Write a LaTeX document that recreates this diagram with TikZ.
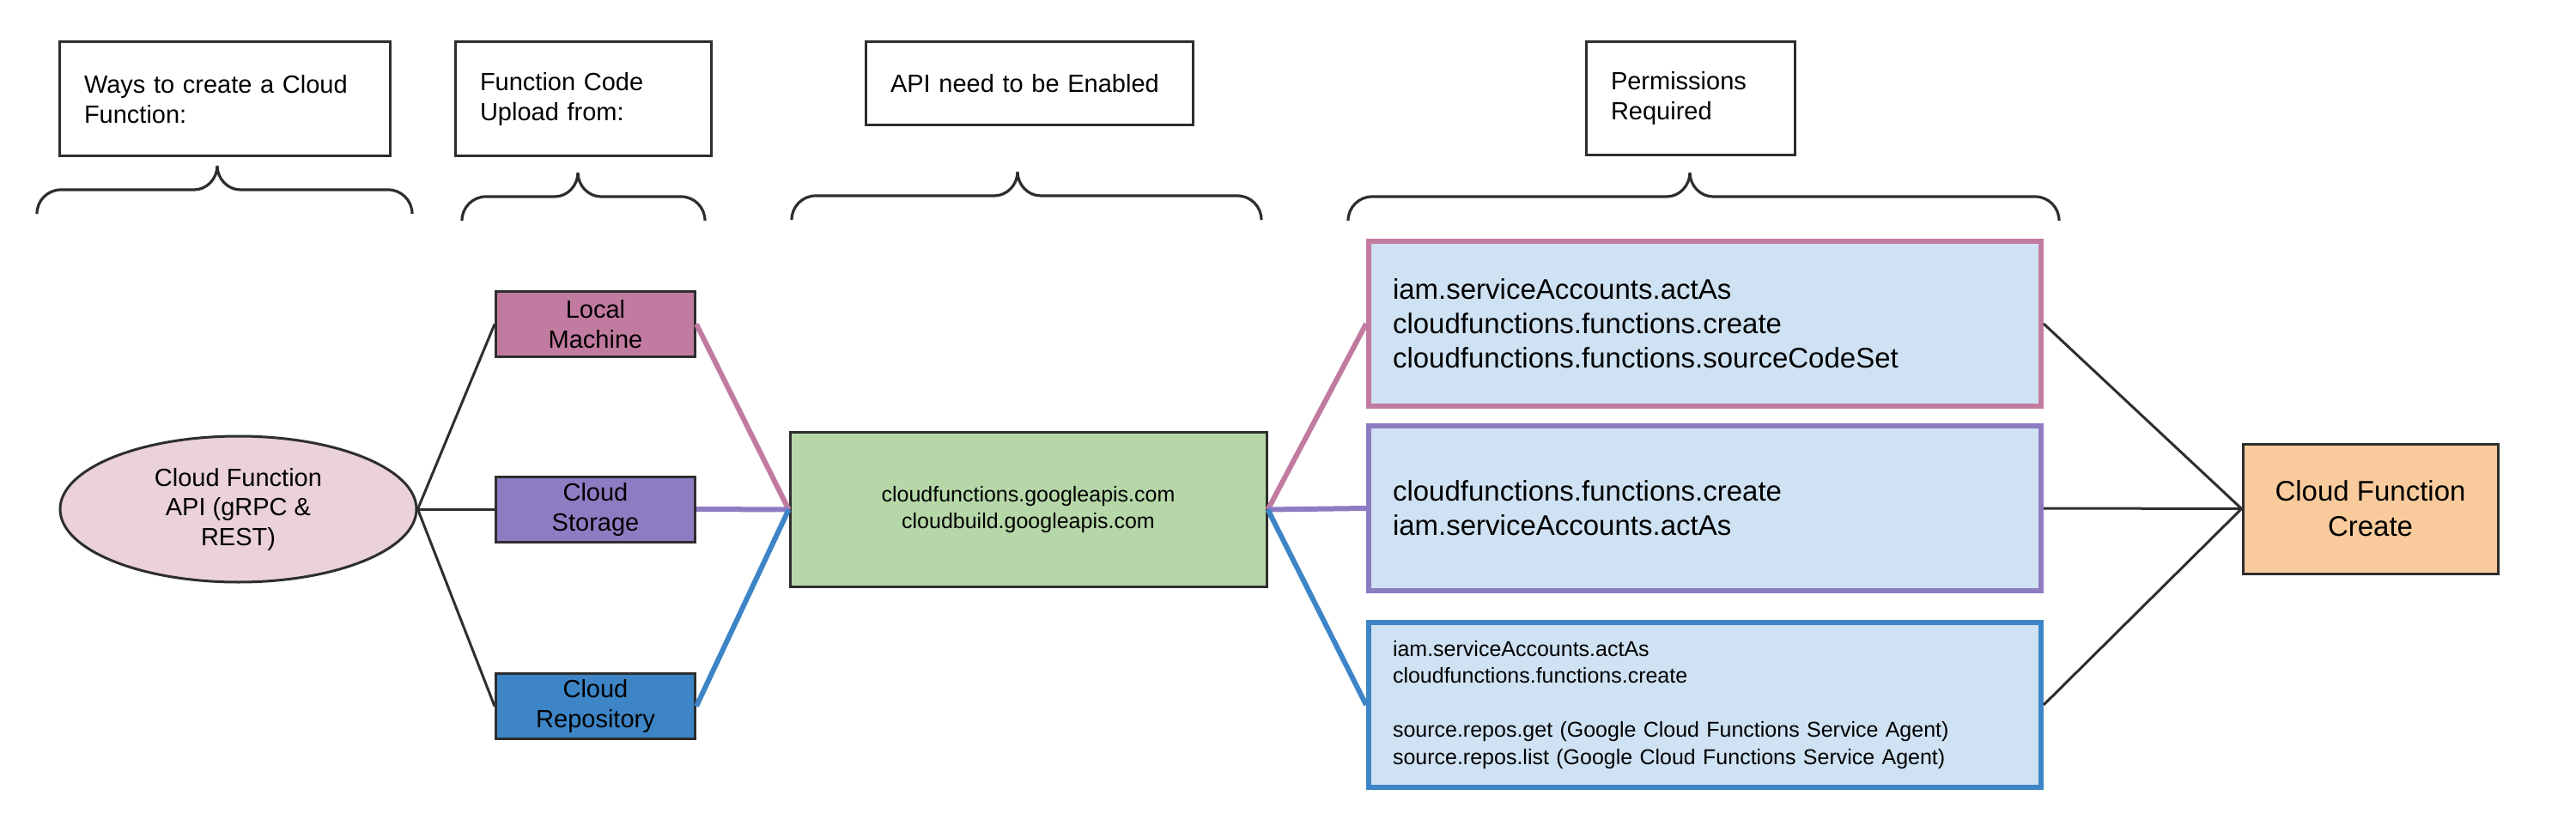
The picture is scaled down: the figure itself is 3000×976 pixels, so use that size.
\documentclass[tikz,border=0pt]{standalone}
\usepackage{fontspec}
\setmainfont{Liberation Sans}
\usetikzlibrary{shapes.geometric}
\definecolor{cpink}{HTML}{C27BA0}
\definecolor{cpurple}{HTML}{8E7CC3}
\definecolor{cblue}{HTML}{3D85C6}
\definecolor{cgreen}{HTML}{B6D7A8}
\definecolor{clblue}{HTML}{CFE2F3}
\definecolor{corange}{HTML}{F9CB9C}
\definecolor{cell}{HTML}{EAD1DC}
\definecolor{cline}{HTML}{2E2E2E}
\newcommand{\mybrace}[4]{% xl, xr, xtip, ytip
  \draw[brc] (#1,#4+56) .. controls (#1,#4+40.5) and (#1+12.5,#4+28) .. (#1+28,#4+28)
    -- (#3-27,#4+28) .. controls (#3-12,#4+28) and (#3,#4+15) .. (#3,#4)
    .. controls (#3,#4+15) and (#3+12,#4+28) .. (#3+27,#4+28)
    -- (#2-28,#4+28) .. controls (#2-12.5,#4+28) and (#2,#4+40.5) .. (#2,#4+56);}
\begin{document}
\begin{tikzpicture}[x=1pt,y=-1pt,
  lbl/.style={draw=cline, line width=3pt, fill=white, align=left, inner xsep=29pt, inner ysep=0pt, font=\fontsize{29}{35}\selectfont},
  src/.style={draw=cline, line width=3pt, minimum width=232pt, minimum height=76pt, inner sep=0pt, align=center, font=\fontsize{29}{35}\selectfont},
  perm/.style={fill=clblue, line width=6pt, minimum width=783pt, minimum height=192pt, inner xsep=28pt, inner ysep=0pt, text width=727pt, align=left},
  blk/.style={draw=cline, line width=3pt},
  col/.style={line width=6pt},
  brc/.style={draw=cline, line width=3.2pt}
]
\useasboundingbox (0,0) rectangle (3000,976);
\fill[white] (0,0) rectangle (3000,976);

% header boxes
\node[lbl, text width=327pt, minimum height=133pt] (h1) at (261.5,115.5) {Ways to create a Cloud\\Function:};
\node[lbl, text width=240pt, minimum height=133pt] (h2) at (679,115.5) {Function Code\\Upload from:};
\node[lbl, text width=323pt, minimum height=97pt] (h3) at (1198.5,97.5) {API need to be Enabled};
\node[lbl, text width=185pt, minimum height=132pt] (h4) at (1968.5,115) {Permissions\\Required};

% braces
\mybrace{43}{480}{253}{193}
\mybrace{538}{821}{673}{201}
\mybrace{922}{1469}{1185}{200}
\mybrace{1570}{2398}{1968}{201}

% nodes
\node[ellipse, draw=cline, line width=3pt, fill=cell, minimum width=415pt, minimum height=170pt, inner sep=0pt, align=center, font=\fontsize{29}{34.5}\selectfont] (ell) at (277.5,593) {Cloud Function\\API (gRPC \&\\REST)};
\node[src, fill=cpink] (lm) at (693.5,377.5) {Local\\Machine};
\node[src, fill=cpurple] (cs) at (693.5,593) {Cloud\\Storage};
\node[src, fill=cblue] (cr) at (693.5,822.5) {Cloud\\Repository};
\node[draw=cline, line width=3pt, fill=cgreen, minimum width=555pt, minimum height=180pt, inner sep=0pt, align=center, font=\fontsize{25}{31}\selectfont] (api) at (1197.5,593.5) {cloudfunctions.googleapis.com\\cloudbuild.googleapis.com};
\node[perm, draw=cpink, font=\fontsize{33}{40}\selectfont] (p1) at (1985.5,377) {iam.serviceAccounts.actAs\\cloudfunctions.functions.create\\cloudfunctions.functions.sourceCodeSet};
\node[perm, draw=cpurple, font=\fontsize{33}{40}\selectfont] (p2) at (1985.5,592) {cloudfunctions.functions.create\\iam.serviceAccounts.actAs};
\node[perm, draw=cblue, font=\fontsize{25}{31.5}\selectfont] (p3) at (1985.5,821) {iam.serviceAccounts.actAs\\cloudfunctions.functions.create\\[31.5pt]source.repos.get (Google Cloud Functions Service Agent)\\source.repos.list (Google Cloud Functions Service Agent)};
\node[draw=cline, line width=3pt, fill=corange, minimum width=297pt, minimum height=151pt, inner sep=0pt, align=center, font=\fontsize{33}{41}\selectfont] (cfc) at (2760.5,592.5) {Cloud Function\\Create};

% connectors
\draw[blk] (ell.east) -- (lm.west);
\draw[blk] (ell.east) -- (cs.west);
\draw[blk] (ell.east) -- (cr.west);
\draw[col, draw=cpink] (lm.east) -- (api.west);
\draw[col, draw=cpurple] (cs.east) -- (api.west);
\draw[col, draw=cblue] (cr.east) -- (api.west);
\draw[col, draw=cpink] (api.east) -- (p1.west);
\draw[col, draw=cpurple] (api.east) -- (p2.west);
\draw[col, draw=cblue] (api.east) -- (p3.west);
\draw[blk] (p1.east) -- (cfc.west);
\draw[blk] (p2.east) -- (cfc.west);
\draw[blk] (p3.east) -- (cfc.west);
\end{tikzpicture}
\end{document}
